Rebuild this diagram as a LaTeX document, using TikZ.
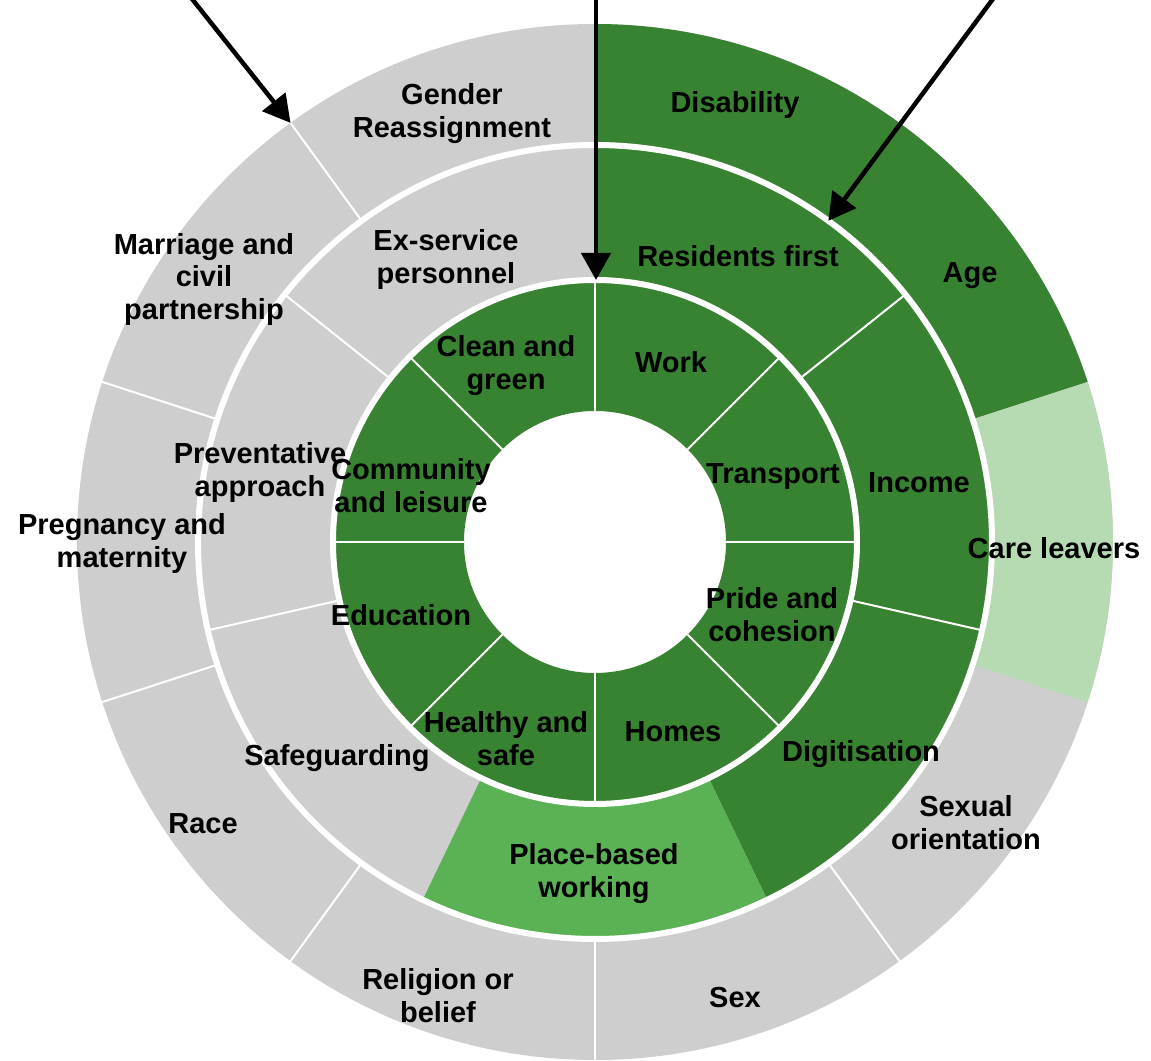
\documentclass[tikz,border=0pt]{standalone}
\usepackage{fontspec}
\setmainfont{Liberation Sans}
\usepackage{tikz}
\usetikzlibrary{calc,arrows.meta}

\definecolor{darkgreen}{RGB}{56,131,50}
\definecolor{midgreen}{RGB}{90,178,84}
\definecolor{palegreen}{RGB}{182,219,178}
\definecolor{ringgrey}{RGB}{206,206,206}

\tikzset{
    seglabel/.style={align=center, font=\fontsize{16.5}{18.6}\selectfont\bfseries, yshift=-0.05cm},
    divider/.style={white, line width=0.04cm},
    ringgap/.style={white, line width=0.12cm},
    pointer/.style={-{Triangle[length=0.54cm, width=0.58cm]}, line width=0.09cm, black}
}

\begin{document}
\begin{tikzpicture}[align=center, scale=0.2]
        \useasboundingbox (-59.5,-51.9) rectangle (55.6,54.2);

        % rings
        \fill[ringgrey, even odd rule] (0,0) circle[radius=51.8] (0,0) circle[radius=39.7];
        \fill[ringgrey, even odd rule] (0,0) circle[radius=39.7] (0,0) circle[radius=26.2];
        \fill[darkgreen, even odd rule] (0,0) circle[radius=26.2] (0,0) circle[radius=13.1];

        % coloured parts of the outer and middle ring
        \foreach \a/\b/\r/\R/\c in {90/18/39.7/51.8/darkgreen, 18/-18/39.7/51.8/palegreen,
                90/-64.286/26.2/39.7/darkgreen, -64.286/-115.714/26.2/39.7/midgreen}
            \fill[\c] (\a:\r) arc[start angle=\a, end angle=\b, radius=\r] -- (\b:\R)
                arc[start angle=\b, end angle=\a, radius=\R] -- cycle;

        % dividers
        \foreach \a in {90,45,...,-225}
            \draw[divider] (\a:13.1) -- (\a:26.2);
        \foreach \a in {38.571,-12.857,-167.143,141.429}
            \draw[divider] (\a:26.2) -- (\a:39.7);
        \foreach \a in {-54,-90,-126,-162,162,126}
            \draw[divider] (\a:39.7) -- (\a:51.8);

        \draw[ringgap] (0,0) circle[radius=26.2];
        \draw[ringgap] (0,0) circle[radius=39.7];

        % outer ring
        \node[seglabel] (gender) at (-14.3,43.1) {Gender\\Reassignment};
        \node[seglabel] (disability) at (14.0,43.9) {Disability};
        \node[seglabel] (age) at (37.5,26.9) {Age};
        \node[seglabel] (careleavers) at (45.9,-0.4) {Care leavers};
        \node[seglabel] (sexual) at (37.1,-27.8) {Sexual\\orientation};
        \node[seglabel] (sex) at (14.0,-45.3) {Sex};
        \node[seglabel] (religion) at (-15.7,-45.1) {Religion or\\belief};
        \node[seglabel] (race) at (-39.2,-27.9) {Race};
        \node[seglabel] (pregnancy) at (-47.3,0.1) {Pregnancy and\\maternity};
        \node[seglabel] (marriage) at (-39.1,26.5) {Marriage and\\civil\\partnership};

        % middle ring
        \node[seglabel] (exservice) at (-14.9,28.5) {Ex-service\\personnel};
        \node[seglabel] (residents) at (14.3,28.8) {Residents first};
        \node[seglabel] (income) at (32.4,6.2) {Income};
        \node[seglabel] (digitisation) at (26.6,-21.0) {Digitisation};
        \node[seglabel] (placebased) at (-0.1,-32.9) {Place-based\\working};
        \node[seglabel] (safeguarding) at (-25.8,-21.4) {Safeguarding};
        \node[seglabel] (preventative) at (-33.5,7.2) {Preventative\\approach};

        % inner ring
        \node[seglabel] (clean) at (-8.9,17.9) {Clean and\\green};
        \node[seglabel] (work) at (7.6,18.2) {Work};
        \node[seglabel] (transport) at (17.8,6.8) {Transport};
        \node[seglabel] (pride) at (17.7,-7.0) {Pride and\\cohesion};
        \node[seglabel] (homes) at (7.8,-18.7) {Homes};
        \node[seglabel] (healthy) at (-8.9,-19.4) {Healthy and\\safe};
        \node[seglabel] (education) at (-19.4,-7.1) {Education};
        \node[seglabel] (community) at (-18.4,5.9) {Community\\and leisure};

        % pointers
        \coordinate (leftsrc) at (-41.8,56.2);
        \coordinate (midsrc) at (0.1,56.2);
        \coordinate (rightsrc) at (41.2,56.2);
        \coordinate (lefttip) at (126:51.8);
        \coordinate (midtip) at (0.1,26.2);
        \coordinate (righttip) at (54:39.7);

        \draw[pointer] (leftsrc) -- (lefttip);
        \draw[pointer] (midsrc) -- (midtip);
        \draw[pointer] (rightsrc) -- (righttip);

    \end{tikzpicture}
\end{document}
